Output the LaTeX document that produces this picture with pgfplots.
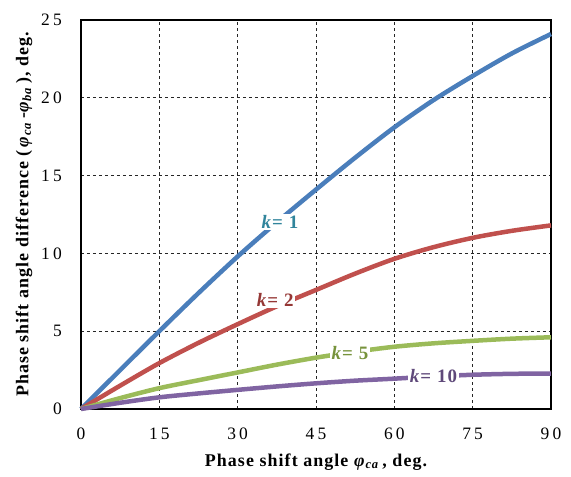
\documentclass[border=0pt]{standalone}
\usepackage{fontspec}
\setmainfont{Liberation Serif}
\newfontfamily\tickfont[LetterSpace=18]{Liberation Serif}
\newfontfamily\labfont[LetterSpace=6]{Liberation Serif}
\usepackage{pgfplots}
\pgfplotsset{compat=1.18}
\definecolor{cblue}{HTML}{4A7EBB}
\definecolor{cred}{HTML}{C0504D}
\definecolor{cgreen}{HTML}{9BBB59}
\definecolor{cpurple}{HTML}{8064A2}
\definecolor{tblue}{HTML}{31859C}
\definecolor{tred}{HTML}{953735}
\definecolor{tgreen}{HTML}{77933C}
\definecolor{tpurple}{HTML}{5F497A}
\begin{document}
\begin{tikzpicture}
\begin{axis}[
  scale only axis, width=470bp, height=389bp,
  xmin=0, xmax=90, ymin=0, ymax=25,
  xtick={0,15,30,45,60,75,90}, ytick={0,5,10,15,20,25},
  grid=major,
  major grid style={black!85, dash pattern=on 3bp off 3bp, line width=0.8bp},
  axis line style={line width=1.3bp},
  major tick length=0pt,
  /pgf/number format/assume math mode=true,
  tick label style={font=\tickfont\fontsize{17.5}{17.5}\selectfont, inner sep=0pt},
  xticklabel style={anchor=center, yshift=-25bp},
  yticklabel style={anchor=east, xshift=-19bp},
  xlabel={Phase shift angle \textit{φ}\textsubscript{\textit{ca}}\,, deg.},
  ylabel={Phase shift angle difference (\,\textit{φ}\textsubscript{\textit{ca}}\,-\textit{φ}\textsubscript{\textit{ba}}\,), deg.},
  label style={font=\labfont\bfseries\fontsize{18}{20}\selectfont},
  xlabel style={at={(axis description cs:0.5,-0.1362)}, anchor=center},
  ylabel style={at={(axis description cs:-0.1213,0.5)}, anchor=center},
  clip=false,
  every axis plot/.append style={line width=4.5bp, smooth},
]
\path (axis description cs:-0.1723,-0.1748) rectangle (axis description cs:1.0426,1.0514);
\addplot[cblue] coordinates {(0,0) (7.5,2.5) (15,5.0) (22.5,7.45) (30,9.8) (37.5,12.0) (45,14.1) (52.5,16.15) (60,18.1) (67.5,19.85) (75,21.4) (82.5,22.85) (90,24.1)};
\addplot[cred] coordinates {(0,0) (7.5,1.5) (15,2.95) (22.5,4.25) (30,5.45) (37.5,6.6) (45,7.65) (52.5,8.7) (60,9.65) (67.5,10.4) (75,11.0) (82.5,11.45) (90,11.8)};
\addplot[cgreen] coordinates {(0,0) (7.5,0.7) (15,1.34) (22.5,1.85) (30,2.35) (37.5,2.85) (45,3.3) (52.5,3.68) (60,4.0) (67.5,4.22) (75,4.38) (82.5,4.52) (90,4.61)};
\addplot[cpurple] coordinates {(0,0) (7.5,0.4) (15,0.75) (22.5,1.0) (30,1.23) (37.5,1.45) (45,1.65) (52.5,1.82) (60,1.95) (67.5,2.09) (75,2.2) (82.5,2.26) (90,2.28)};
\node[fill=white, inner sep=1.5bp, text=tblue, font=\labfont\bfseries\fontsize{19}{19}\selectfont] at (axis cs:38.1,12.0) {\textit{k}= 1};
\node[fill=white, inner sep=1.5bp, text=tred, font=\labfont\bfseries\fontsize{19}{19}\selectfont] at (axis cs:37.2,7.0) {\textit{k}= 2};
\node[fill=white, inner sep=1.5bp, text=tgreen, font=\labfont\bfseries\fontsize{19}{19}\selectfont] at (axis cs:51.5,3.6) {\textit{k}= 5};
\node[fill=white, inner sep=1.5bp, text=tpurple, font=\labfont\bfseries\fontsize{19}{19}\selectfont] at (axis cs:67.5,2.1) {\textit{k}= 10};
\end{axis}
\end{tikzpicture}
\end{document}
